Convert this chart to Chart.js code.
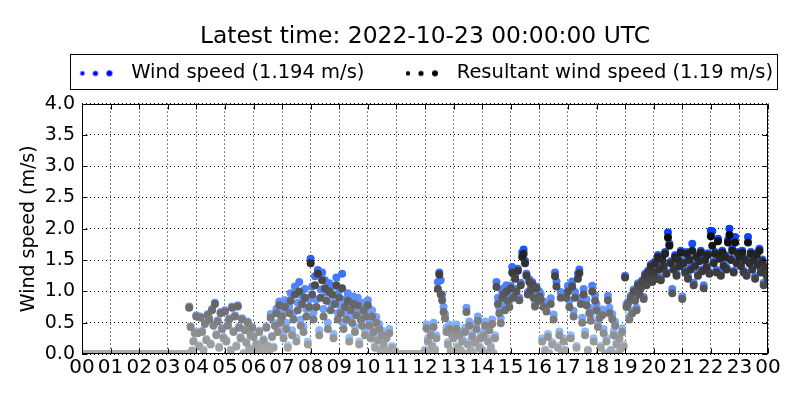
<!DOCTYPE html>
<html lang="en">
<head>
<meta charset="UTF-8">
<title>Wind speed</title>
<script src="https://cdn.jsdelivr.net/npm/chart.js"></script>
<style>
    body { margin: 0; background: #fff; }
    #wrap { width: 800px; height: 400px; }
</style>
</head>
<body>
<div id="wrap"><canvas id="windChart"></canvas></div>
<script>
// hour labels along the x axis (00 .. 23, then 00 of the next day)
const hourLabels = ['00','01','02','03','04','05','06','07','08','09','10','11',
                    '12','13','14','15','16','17','18','19','20','21','22','23','00'];
const samplesPerHour = 20; // one reading every 3 minutes

// wind speed (m/s), one row per hour, last value is 24:00
const windSpeed = [
    0,0,0,0,0,0,0,0,0,0,0,0,0,0,0,0,0,0,0,0,
    0,0,0,0,0,0,0,0,0,0,0,0,0,0,0,0,0,0,0,0,
    0,0,0,0,0,0,0,0,0,0,0,0,0,0,0,0,0,0,0,0,
    0,0,0,0,0,0,0,0,0,0,0,0,0,0,0,0.76,0.44,0.06,0.21,0.35,
    0.62,0.35,0.14,0.60,0.37,0.07,0.50,0.24,0.64,0.57,0.17,0.72,0.47,0.82,0.32,0.54,0.12,0.67,0.42,0.27,
    0.70,0.22,0.47,0.57,0.07,0.76,0.37,0.62,0.14,0.78,0.44,0.27,0.57,0.02,0.40,0.20,0.52,0.10,0.32,0.44,
    0.29,0.07,0.17,0.02,0.37,0.12,0.07,0.24,0.02,0.44,0.14,0.07,0.64,0.29,0.12,0.49,0.72,0.39,0.84,0.55,
    0.70,0.32,0.86,0.50,0.14,0.76,0.97,0.38,0.66,1.08,0.26,0.82,1.15,0.55,0.93,0.44,1.04,0.72,0.20,0.87,
    1.52,1.08,0.66,1.24,0.87,1.34,0.38,1.03,1.30,0.72,1.18,0.98,0.50,1.13,0.82,1.08,0.32,0.93,1.22,0.66,
    1.02,0.77,1.28,0.50,0.87,0.66,0.97,0.26,0.82,0.61,0.92,0.44,0.74,0.90,0.20,0.66,0.55,0.82,0.38,0.72,
    0.86,0.55,0.31,0.70,0.43,0.14,0.59,0.28,0.48,0.07,0.37,0.19,0.02,0.31,0.07,0.40,0.02,0.13,0.02,0.06,
    0,0,0,0,0,0,0,0,0,0,0,0,0,0,0,0,0,0,0,0,
    0.07,0.47,0.25,0.02,0.36,0.15,0.50,0.08,0.30,1.15,1.30,1.18,0.95,0.75,0.64,0.42,0.19,0.47,0.07,0.36,
    0.30,0.02,0.47,0.13,0.36,0.07,0.25,0.02,0.42,0.74,0.19,0.52,0.07,0.33,0.02,0.22,0.48,0.60,0.13,0.30,
    0.07,0.36,0.52,0.02,0.25,0.45,0.13,0.55,0.02,0.30,1.15,0.90,0.74,0.57,1.00,1.05,0.80,1.10,0.95,0.85,
    1.09,1.39,0.94,1.24,1.04,1.36,0.90,1.14,1.62,1.67,1.49,1.28,0.99,1.19,1.06,1.15,0.94,0.80,1.08,0.89,
    1.00,0.96,0.25,0.84,0.07,0.76,0.32,0.02,0.89,0.19,0.63,1.30,1.16,0.13,0.36,0.99,0.02,0.25,0.07,0.98,
    1.09,0.85,0.30,1.16,0.69,0.99,0.13,1.28,1.35,0.90,0.58,1.04,0.36,0.87,0.07,0.74,0.61,1.09,0.25,0.94,
    0.80,0.50,0.66,0.13,0.71,0.40,0.02,0.25,0.93,0.74,0.07,0.64,0.36,0.52,0.19,0.02,0.30,0.11,0.41,0.15,
    1.25,0.80,0.83,0.60,0.93,0.69,1.03,0.88,0.74,1.13,0.98,1.08,1.18,0.91,1.28,1.13,1.33,1.23,1.43,1.18,
    1.33,1.48,1.24,1.58,1.38,1.22,1.53,1.43,1.63,1.31,1.94,1.76,1.48,1.04,1.38,1.58,1.28,1.53,1.43,1.65,
    0.92,1.48,1.33,1.63,1.24,1.53,1.38,1.76,1.14,1.43,1.58,1.28,1.51,1.65,1.35,1.10,1.53,1.41,1.61,1.31,
    1.97,1.96,1.48,1.63,1.34,1.84,1.55,1.29,1.65,1.43,1.58,1.38,1.82,2.00,1.53,1.68,1.33,1.87,1.48,1.63,
    1.58,1.43,1.65,1.33,1.53,1.29,1.87,1.48,1.63,1.38,1.53,1.24,1.61,1.45,1.68,1.33,1.51,1.14,1.41,1.28,
    1.194
];

// resultant (vector mean) wind speed (m/s)
const resultantSpeed = [
    0,0,0,0,0,0,0,0,0,0,0,0,0,0,0,0,0,0,0,0,
    0,0,0,0,0,0,0,0,0,0,0,0,0,0,0,0,0,0,0,0,
    0,0,0,0,0,0,0,0,0,0,0,0,0,0,0,0,0,0,0,0,
    0,0,0,0,0,0,0,0,0,0,0,0,0,0,0,0.74,0.43,0.05,0.20,0.33,
    0.60,0.33,0.12,0.58,0.35,0.05,0.48,0.22,0.62,0.55,0.15,0.70,0.45,0.80,0.30,0.52,0.10,0.65,0.40,0.25,
    0.68,0.20,0.45,0.55,0.05,0.74,0.35,0.60,0.12,0.76,0.42,0.25,0.55,0.00,0.38,0.18,0.50,0.08,0.30,0.42,
    0.27,0.05,0.15,0.00,0.35,0.10,0.05,0.22,0.00,0.42,0.12,0.05,0.58,0.27,0.10,0.45,0.65,0.35,0.78,0.50,
    0.60,0.25,0.75,0.40,0.10,0.65,0.85,0.30,0.55,0.95,0.20,0.70,1.00,0.45,0.80,0.35,0.90,0.60,0.15,0.75,
    1.45,0.95,0.55,1.10,0.75,1.28,0.30,0.90,1.18,0.60,1.05,0.85,0.40,1.00,0.70,0.95,0.25,0.80,1.10,0.55,
    0.90,0.65,1.05,0.40,0.75,0.55,0.85,0.20,0.70,0.50,0.80,0.35,0.62,0.78,0.15,0.55,0.45,0.70,0.30,0.60,
    0.78,0.45,0.25,0.60,0.35,0.10,0.50,0.22,0.40,0.05,0.30,0.15,0.00,0.25,0.05,0.33,0.00,0.10,0.00,0.04,
    0,0,0,0,0,0,0,0,0,0,0,0,0,0,0,0,0,0,0,0,
    0.05,0.41,0.20,0.00,0.30,0.12,0.43,0.06,0.25,1.04,1.27,0.95,0.86,0.67,0.57,0.35,0.15,0.40,0.05,0.30,
    0.25,0.00,0.40,0.10,0.30,0.05,0.20,0.00,0.35,0.67,0.15,0.45,0.05,0.28,0.00,0.18,0.40,0.53,0.10,0.25,
    0.05,0.30,0.45,0.00,0.20,0.38,0.10,0.48,0.00,0.25,1.07,0.80,0.65,0.49,0.90,0.96,0.70,1.00,0.85,0.75,
    1.05,1.30,0.90,1.20,1.00,1.33,0.86,1.10,1.55,1.60,1.45,1.25,0.95,1.15,1.02,1.12,0.90,0.76,1.05,0.85,
    0.92,0.87,0.20,0.75,0.05,0.68,0.27,0.00,0.80,0.15,0.55,1.24,1.08,0.10,0.30,0.90,0.00,0.20,0.05,0.90,
    1.00,0.75,0.25,1.08,0.60,0.90,0.10,1.20,1.29,0.80,0.50,0.95,0.30,0.78,0.05,0.65,0.53,1.00,0.20,0.85,
    0.70,0.43,0.57,0.10,0.62,0.33,0.00,0.20,0.86,0.65,0.05,0.56,0.30,0.45,0.15,0.00,0.25,0.08,0.35,0.12,
    1.22,0.75,0.80,0.55,0.90,0.65,1.00,0.85,0.70,1.10,0.95,1.05,1.15,0.88,1.25,1.10,1.30,1.20,1.40,1.15,
    1.30,1.45,1.20,1.55,1.35,1.18,1.50,1.40,1.60,1.28,1.86,1.73,1.45,0.97,1.35,1.55,1.25,1.50,1.40,1.62,
    0.88,1.45,1.30,1.60,1.20,1.50,1.35,1.65,1.10,1.40,1.55,1.25,1.48,1.62,1.32,1.05,1.50,1.38,1.58,1.28,
    1.88,1.73,1.45,1.60,1.30,1.80,1.52,1.25,1.62,1.40,1.55,1.35,1.78,1.90,1.50,1.65,1.30,1.78,1.45,1.60,
    1.55,1.40,1.62,1.30,1.50,1.25,1.78,1.45,1.60,1.35,1.50,1.20,1.58,1.42,1.65,1.30,1.48,1.10,1.38,1.25,
    1.19
];

const titleText = 'Latest time: 2022-10-23 00:00:00 UTC';
const windLabel = 'Wind speed (1.194 m/s)';
const resultantLabel = 'Resultant wind speed (1.19 m/s)';

Chart.defaults.font.family = "'DejaVu Sans', sans-serif";
Chart.defaults.color = '#000';

function toPoints(values) {
    return values.map((v, i) => ({ x: i / samplesPerHour, y: v }));
}

// darker for stronger wind
function greyFor(v) {
    const g = Math.round(Math.max(0, 170 - 85 * v));
    return `rgb(${g},${g},${g})`;
}
function blueFor(v) {
    const r = Math.round(Math.max(0, 170 - 85 * v));
    const g = Math.round(Math.max(50, 210 - 75 * v));
    return `rgb(${r},${g},255)`;
}

// three-dot legend markers like the matplotlib scatter legend
function dotsMarker(color) {
    const c = document.createElement('canvas');
    c.width = 63;
    c.height = 12;
    const ctx = c.getContext('2d');
    ctx.fillStyle = color;
    [[24, 2.2], [37, 2.6], [51, 3.0]].forEach(([cx, r]) => {
        ctx.beginPath();
        ctx.arc(cx, 6, r, 0, Math.PI * 2);
        ctx.fill();
    });
    return c;
}
const markers = [dotsMarker('#0000ff'), dotsMarker('#000000')];

const framePlugin = {
    id: 'frame',
    afterLayout(chart) {
        const a = chart.chartArea;
        const t = chart.titleBlock;
        t.left = a.left; t.right = a.right; t.width = a.right - a.left;
        const lg = chart.legend;
        lg.left = a.left - 47; lg.right = a.right + 28.5; lg.width = lg.right - lg.left;
    },
    afterDraw(chart) {
        const { ctx, chartArea: a, scales } = chart;
        const L = Math.round(a.left) + 0.5, R = Math.round(a.right) - 0.5;
        const T = Math.round(a.top) + 0.5, B = Math.round(a.bottom) - 0.5;
        ctx.save();
        ctx.strokeStyle = '#000';
        ctx.lineWidth = 1;
        ctx.setLineDash([]);
        ctx.beginPath();
        // inward tick marks on all four sides
        scales.x.ticks.forEach(tk => {
            const px = Math.round(scales.x.getPixelForValue(tk.value)) + 0.5;
            ctx.moveTo(px, B); ctx.lineTo(px, B - 5);
            ctx.moveTo(px, T); ctx.lineTo(px, T + 5);
        });
        scales.y.ticks.forEach(tk => {
            const py = Math.round(scales.y.getPixelForValue(tk.value)) + 0.5;
            ctx.moveTo(L, py); ctx.lineTo(L + 5, py);
            ctx.moveTo(R, py); ctx.lineTo(R - 5, py);
        });
        ctx.stroke();
        ctx.strokeRect(L, T, R - L, B - T);
        // legend frame
        const lg = chart.legend;
        ctx.strokeRect(Math.round(a.left) - 11.5, Math.round(lg.top) + 10.5, a.right - a.left + 21, 35);
        ctx.restore();
    }
};

new Chart(document.getElementById('windChart'), {
    type: 'scatter',
    data: {
        datasets: [
            {
                label: windLabel,
                data: toPoints(windSpeed),
                order: 1,
                clip: 0,
                pointRadius: 4,
                pointHoverRadius: 4,
                pointBorderWidth: 0,
                pointBackgroundColor: c => blueFor(c.raw.y)
            },
            {
                label: resultantLabel,
                data: toPoints(resultantSpeed),
                order: 0,
                clip: 0,
                pointRadius: 4,
                pointHoverRadius: 4,
                pointBorderWidth: 0,
                pointBackgroundColor: c => greyFor(c.raw.y)
            }
        ]
    },
    options: {
        responsive: true,
        maintainAspectRatio: false,
        animation: false,
        layout: { padding: { top: 0, right: 32, bottom: 0, left: 0 } },
        plugins: {
            title: {
                display: true,
                text: titleText,
                font: { size: 23.4, weight: 'normal' },
                padding: { top: 23, bottom: -7 }
            },
            legend: {
                display: true,
                position: 'top',
                labels: {
                    usePointStyle: true,
                    pointStyleWidth: 63,
                    padding: 19.5,
                    font: { size: 19.5 },
                    sort: (a, b) => a.datasetIndex - b.datasetIndex,
                    generateLabels: chart => {
                        const items = Chart.defaults.plugins.legend.labels.generateLabels(chart);
                        items.forEach(it => { it.pointStyle = markers[it.datasetIndex]; });
                        return items;
                    }
                }
            },
            tooltip: { enabled: false }
        },
        scales: {
            x: {
                type: 'linear',
                min: 0,
                max: 24,
                afterFit: s => { s.height = 46; },
                ticks: {
                    stepSize: 1,
                    autoSkip: false,
                    maxRotation: 0,
                    padding: 2,
                    font: { size: 20 },
                    callback: v => hourLabels[v]
                },
                grid: { color: '#000', lineWidth: 1, drawTicks: false },
                border: { display: false, dash: [1, 3] }
            },
            // empty top axis, only keeps a gap between legend and plot
            xTop: {
                type: 'linear',
                position: 'top',
                min: 0,
                max: 24,
                afterFit: s => { s.height = 10.5; },
                ticks: { display: false },
                grid: { display: false, drawTicks: false },
                border: { display: false }
            },
            y: {
                min: 0,
                max: 4,
                afterFit: s => { s.width = 82; },
                ticks: {
                    stepSize: 0.5,
                    padding: 7,
                    font: { size: 19 },
                    callback: v => v.toFixed(1)
                },
                title: {
                    display: true,
                    text: 'Wind speed (m/s)',
                    font: { size: 19 },
                    padding: { top: 18, bottom: 0 }
                },
                grid: { color: '#000', lineWidth: 1, drawTicks: false },
                border: { display: false, dash: [1, 3] }
            }
        }
    },
    plugins: [framePlugin]
});
</script>
</body>
</html>
